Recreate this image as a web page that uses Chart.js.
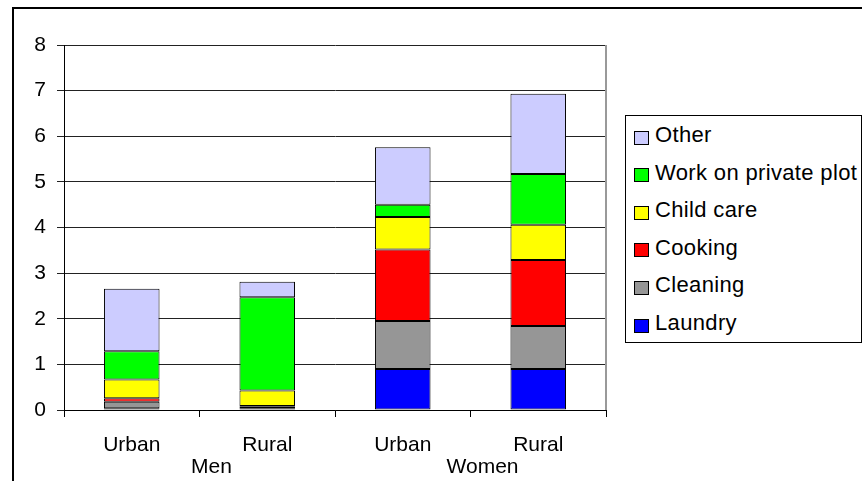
<!DOCTYPE html>
<html>
<head>
<meta charset="utf-8">
<script src="https://cdn.jsdelivr.net/npm/chart.js@4.4.1/dist/chart.umd.min.js"></script>
<style>
body { margin: 0; width: 862px; height: 481px; overflow: hidden; background: #fff; font-family: "Liberation Sans", Arial, sans-serif; }
#frame { position: absolute; left: 12px; top: 7px; width: 1000px; height: 1000px; border: 2px solid #000; }
#chart { position: absolute; left: 0; top: 0; }
#legend { position: absolute; left: 625px; top: 115px; width: 235px; height: 226px; border: 1px solid #000; background: #fff; }
.item { position: absolute; left: 8px; height: 26px; display: flex; align-items: center; font-size: 22px; letter-spacing: 0.35px; color: #000; white-space: nowrap; }
.swatch { width: 13px; height: 12px; border: 1px solid #000; margin-right: 6px; margin-top: 5px; }
</style>
</head>
<body>
<div id="frame"></div>
<canvas id="chart" width="862" height="481"></canvas>
<div id="legend"></div>
<script>
const categories = ['Urban', 'Rural', 'Urban', 'Rural'];
const groups = ['Men', 'Women'];
const seriesNames = ['Laundry', 'Cleaning', 'Cooking', 'Child care', 'Work on private plot', 'Other'];
const seriesColors = ['#0000ff', '#969696', '#ff0000', '#ffff00', '#00ff00', '#ccccff'];
const laundry = [0.04, 0.04, 0.90, 0.90];
const cleaning = [0.14, 0.03, 1.05, 0.94];
const cooking = [0.08, 0.02, 1.57, 1.45];
const childCare = [0.41, 0.34, 0.71, 0.77];
const privatePlot = [0.62, 2.04, 0.27, 1.11];
const other = [1.37, 0.34, 1.26, 1.76];
const yTicks = [0, 1, 2, 3, 4, 5, 6, 7, 8];

const seriesValues = [laundry, cleaning, cooking, childCare, privatePlot, other];
const font = { family: '"Liberation Sans", Arial, sans-serif', size: 21 };

// grey right edge of the plot area
const plotBorder = {
  id: 'plotBorder',
  beforeDatasetsDraw(chart) {
    const { ctx, chartArea } = chart;
    ctx.save();
    ctx.strokeStyle = '#999';
    ctx.lineWidth = 2;
    ctx.beginPath();
    ctx.moveTo(chartArea.right, chartArea.top);
    ctx.lineTo(chartArea.right, chartArea.bottom);
    ctx.stroke();
    ctx.restore();
  }
};

const chart = new Chart(document.getElementById('chart'), {
  type: 'bar',
  data: {
    labels: categories,
    datasets: seriesNames.map((name, i) => ({
      label: name,
      data: seriesValues[i],
      backgroundColor: seriesColors[i],
      borderColor: '#000',
      borderWidth: 1,
      borderSkipped: false,
      barPercentage: 0.41,
      categoryPercentage: 1,
      xAxisID: 'x'
    }))
  },
  options: {
    responsive: false,
    devicePixelRatio: 1,
    animation: false,
    layout: { padding: { left: 14, top: 45, right: 256, bottom: 0 } },
    plugins: { legend: { display: false }, tooltip: { enabled: false } },
    scales: {
      x: {
        stacked: true,
        offset: true,
        grid: { drawOnChartArea: false, drawTicks: true, tickLength: 7, color: '#000', offset: true },
        border: { color: '#000', width: 1 },
        ticks: { font: font, color: '#000', padding: 16, maxRotation: 0 },
        afterFit: (s) => { s.height = 45; }
      },
      x2: {
        type: 'category',
        labels: groups,
        position: 'bottom',
        offset: true,
        grid: { display: false, drawTicks: false },
        border: { display: false },
        ticks: { font: font, color: '#000', padding: 0, labelOffset: 12, maxRotation: 0 },
        afterFit: (s) => { s.height = 26; }
      },
      y: {
        stacked: true,
        min: 0,
        max: 8,
        afterBuildTicks: (s) => { s.ticks = yTicks.map(v => ({ value: v })); },
        grid: { color: '#222', lineWidth: 1, tickLength: 7 },
        border: { color: '#000', width: 1 },
        ticks: { font: font, color: '#000', padding: 11 },
        afterFit: (s) => { s.width = 50; }
      }
    }
  },
  plugins: [plotBorder]
});

// legend, top entry is the top of the stack
const legend = document.getElementById('legend');
chart.data.datasets.slice().reverse().forEach((ds, i) => {
  const item = document.createElement('div');
  item.className = 'item';
  item.style.top = (19 + i * 37.6 - 13) + 'px';
  const sw = document.createElement('span');
  sw.className = 'swatch';
  sw.style.background = ds.backgroundColor;
  const txt = document.createElement('span');
  txt.textContent = ds.label;
  item.appendChild(sw);
  item.appendChild(txt);
  legend.appendChild(item);
});
</script>
</body>
</html>
